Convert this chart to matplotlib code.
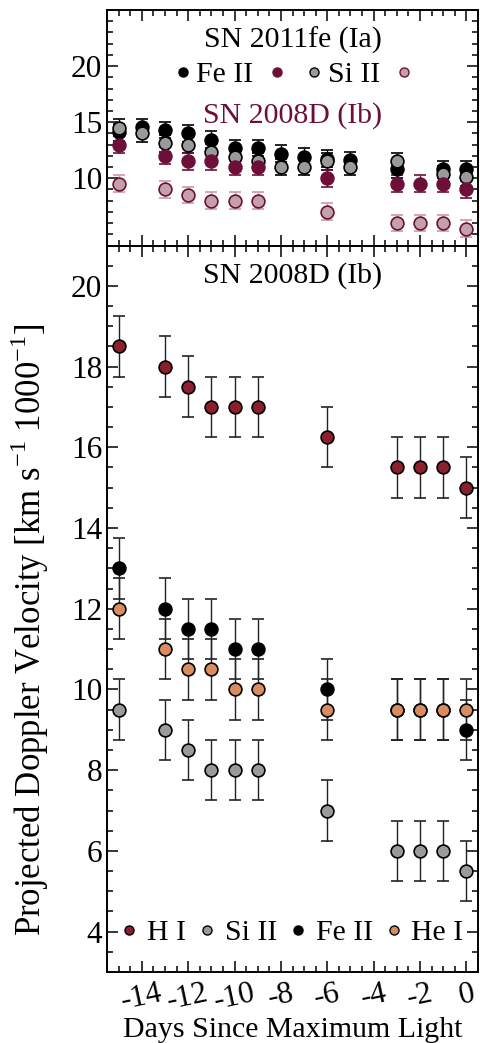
import matplotlib
matplotlib.use("Agg")
import matplotlib.pyplot as plt
from matplotlib.ticker import MultipleLocator
from matplotlib.lines import Line2D

plt.rcParams['font.family'] = ['Liberation Serif', 'DejaVu Serif']
plt.rcParams['mathtext.fontset'] = 'custom'
plt.rcParams['mathtext.rm'] = 'Liberation Serif'

# ---- data: SN 2011fe (top panel) ----
days_fe = [-15, -14, -13, -12, -11, -10, -9, -8, -7, -6, -5, -3, -1, 0]
fe2_2011fe = [14.1, 14.55, 14.3, 14.0, 13.45, 12.7, 12.7, 12.2, 11.9, 11.75, 11.6, 10.8, 10.8, 10.8]
si2_2011fe = [14.5, 14.0, 13.1, 13.0, 12.3, 11.9, 11.5, 11.0, 11.0, 11.5, 11.0, 11.5, 10.35, 10.1]
err_2011fe = 0.75

# ---- data: SN 2008D ----
days_08d = [-15, -13, -12, -11, -10, -9, -6, -3, -2, -1, 0]
h1_08d = [18.5, 18.0, 17.5, 17.0, 17.0, 17.0, 16.25, 15.5, 15.5, 15.5, 15.0]
fe2_08d = [13.0, 12.0, 11.5, 11.5, 11.0, 11.0, 10.0, 9.5, 9.5, 9.5, 9.0]
he1_08d = [12.0, 11.0, 10.5, 10.5, 10.0, 10.0, 9.5, 9.5, 9.5, 9.5, 9.5]
si2_08d = [9.5, 9.0, 8.5, 8.0, 8.0, 8.0, 7.0, 6.0, 6.0, 6.0, 5.5]
err_08d = 0.75

xticks = [-14, -12, -10, -8, -6, -4, -2, 0]
top_yticks = [10, 15, 20]
bot_yticks = [4, 6, 8, 10, 12, 14, 16, 18, 20]

C_H1 = '#8c1f2e'
C_SI = '#9a9a9a'
C_FE = '#000000'
C_HE = '#d88c60'
C_MAROON = '#6e0f3a'
C_PINK = '#c4a0a8'
C_PINK_ERR = '#c89aa6'

FS = 21.5
FS_TICK = 22.5
W, H = 481, 1043
fig = plt.figure(figsize=(W / 100, H / 100), dpi=100)

left = 107 / W
width = 371 / W
ax_top = fig.add_axes([left, (H - 245.5) / H, width, 235.5 / H])
ax_bot = fig.add_axes([left, (H - 972) / H, width, 726.5 / H])

ms = 9.2
mew = 1.2
cap = 4.3
elw = 1.0


def style(ax):
    ax.tick_params(which='both', direction='in', top=True, right=True, width=1.1)
    ax.tick_params(which='major', length=8, labelsize=FS_TICK)
    ax.tick_params(which='minor', length=4)
    for s in ax.spines.values():
        s.set_linewidth(1.4)
    ax.set_xlim(-15.5, 0.5)
    ax.xaxis.set_major_locator(MultipleLocator(2))
    ax.xaxis.set_minor_locator(MultipleLocator(0.5))
    ax.set_xticks(xticks)


# ---- top panel ----
style(ax_top)
ax_top.set_ylim(4, 25)
ax_top.set_yticks(top_yticks)
ax_top.yaxis.set_minor_locator(MultipleLocator(1))
ax_top.tick_params(axis='x', labelbottom=False)

ax_top.errorbar(days_fe, fe2_2011fe, yerr=err_2011fe, fmt='o', ms=ms, mfc=C_FE, mec='k', mew=mew,
                ecolor='k', elinewidth=elw, capsize=cap, capthick=elw)
ax_top.errorbar(days_fe, si2_2011fe, yerr=err_2011fe, fmt='o', ms=ms, mfc=C_SI, mec='k', mew=mew,
                ecolor='k', elinewidth=elw, capsize=cap, capthick=elw)
ax_top.errorbar(days_08d, fe2_08d, yerr=err_08d, fmt='o', ms=ms, mfc=C_MAROON, mec=C_MAROON, mew=mew,
                ecolor=C_MAROON, elinewidth=elw, capsize=cap, capthick=elw)
ax_top.errorbar(days_08d, si2_08d, yerr=err_08d, fmt='o', ms=ms, mfc=C_PINK, mec=C_MAROON, mew=mew,
                ecolor=C_PINK_ERR, elinewidth=elw, capsize=cap, capthick=elw)

ax_top.text(0.5, 0.87, 'SN 2011fe (Ia)', transform=ax_top.transAxes, ha='center', va='center', fontsize=FS)
ax_top.text(0.5, 0.55, 'SN 2008D (Ib)', transform=ax_top.transAxes, ha='center', va='center',
            fontsize=FS, color=C_MAROON)

lms = 6.5
top_handles = [
    Line2D([], [], ls='none', marker='o', ms=lms, mfc=C_FE, mec='k'),
    Line2D([], [], ls='none', marker='o', ms=lms, mfc=C_MAROON, mec=C_MAROON),
    Line2D([], [], ls='none', marker='o', ms=lms, mfc=C_SI, mec='k'),
    Line2D([], [], ls='none', marker='o', ms=lms, mfc=C_PINK, mec=C_MAROON),
]
top_labels = ['Fe II', '', 'Si II', '']
ax_top.legend(top_handles, top_labels, ncol=4, loc='center', bbox_to_anchor=(0.51, 0.725),
              frameon=False, fontsize=FS, handlelength=0.5, handletextpad=0.2,
              columnspacing=0.55, borderpad=0, borderaxespad=0)

# ---- bottom panel ----
style(ax_bot)
ax_bot.set_ylim(3, 21)
ax_bot.set_yticks(bot_yticks)
ax_bot.yaxis.set_minor_locator(MultipleLocator(0.5))
ax_bot.set_xticks(xticks)
ax_bot.set_xticklabels([str(t) for t in xticks], rotation=12)
ax_bot.tick_params(axis='x', pad=5)

for vals, col in [(h1_08d, C_H1), (si2_08d, C_SI), (fe2_08d, C_FE), (he1_08d, C_HE)]:
    ax_bot.errorbar(days_08d, vals, yerr=err_08d, fmt='o', ms=ms, mfc=col, mec='k', mew=mew,
                    ecolor='#222222', elinewidth=elw, capsize=cap, capthick=elw)

ax_bot.text(0.5, 0.958, 'SN 2008D (Ib)', transform=ax_bot.transAxes, ha='center', va='center', fontsize=FS)

bot_handles = [Line2D([], [], ls='none', marker='o', ms=lms, mfc=c, mec='k')
               for c in [C_H1, C_SI, C_FE, C_HE]]
ax_bot.legend(bot_handles, ['H I', 'Si II', 'Fe II', 'He I'], ncol=4, loc='center',
              bbox_to_anchor=(0.5, 0.054), frameon=False, fontsize=FS, handlelength=0.5,
              handletextpad=0.35, columnspacing=0.45, borderpad=0, borderaxespad=0)

ax_bot.set_xlabel('Days Since Maximum Light', fontsize=FS, labelpad=1)
fig.text(30 / W, (H - 630) / H, r'Projected Doppler Velocity [km s$^{-1}$ 1000$^{-1}$]',
         rotation=90, ha='center', va='center', fontsize=25)

fig.savefig('out.png', dpi=100)
